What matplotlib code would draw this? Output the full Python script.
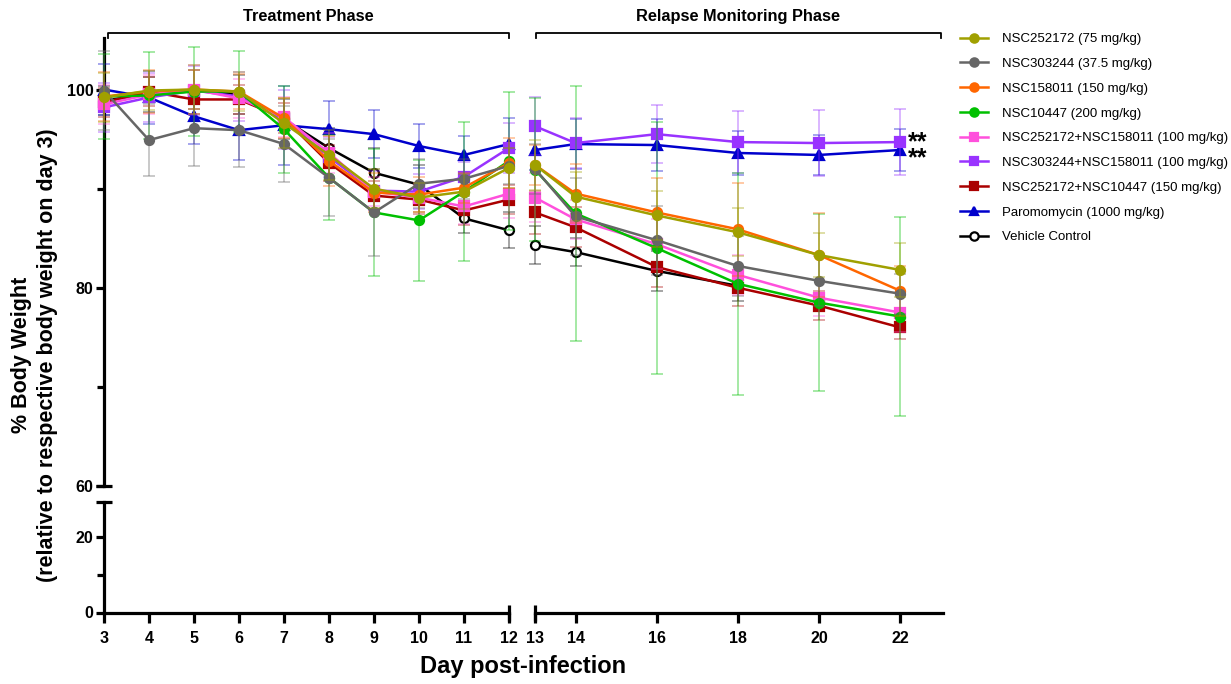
import matplotlib
matplotlib.use("Agg")
import matplotlib.pyplot as plt
import matplotlib.transforms as mtransforms
from matplotlib.lines import Line2D

plt.rcParams["font.family"] = ["Liberation Sans", "DejaVu Sans"]

# ----------------------------------------------------------------------------
# DATA  (mean % body weight and SD)
# ----------------------------------------------------------------------------
DAYS = [3, 4, 5, 6, 7, 8, 9, 10, 11, 12, 13, 14, 16, 18, 20, 22]
N_TREAT = 10          # first 10 days -> treatment phase panel

LABELS = [
    "NSC252172 (75 mg/kg)",
    "NSC303244 (37.5 mg/kg)",
    "NSC158011 (150 mg/kg)",
    "NSC10447 (200 mg/kg)",
    "NSC252172+NSC158011 (100 mg/kg)",
    "NSC303244+NSC158011 (100 mg/kg)",
    "NSC252172+NSC10447 (150 mg/kg)",
    "Paromomycin (1000 mg/kg)",
    "Vehicle Control",
]
COLORS = ["#a0a000", "#666666", "#ff6600", "#00c000", "#ff50dc",
          "#9933ff", "#aa0000", "#0000cc", "#000000"]
MARKERS = ["o", "o", "o", "o", "s", "s", "s", "^", "o"]

nsc252172 = [99.2, 99.9, 100.0, 99.8, 96.6, 93.4, 90.0, 89.1, 89.7, 92.1,
             92.4, 89.2, 87.3, 85.6, 83.3, 81.8]
nsc252172_sd = [2.5, 2.0, 2.5, 2.0, 2.5, 2.5, 2.0, 1.5, 1.8, 2.0,
                2.5, 2.5, 2.5, 2.4, 2.2, 2.7]

nsc303244 = [99.9, 94.9, 96.1, 95.9, 94.5, 91.1, 87.6, 90.5, 91.0, 92.3,
             92.0, 87.2, 84.8, 82.2, 80.7, 79.4]
nsc303244_sd = [4.0, 3.6, 3.8, 3.7, 3.8, 3.9, 4.4, 2.5, 2.0, 1.8,
                2.5, 3.9, 3.5, 3.0, 2.5, 2.0]

nsc158011 = [99.3, 99.8, 100.0, 99.8, 97.1, 92.8, 89.6, 89.4, 90.1, 92.6,
             92.4, 89.5, 87.6, 85.9, 83.3, 79.7]
nsc158011_sd = [2.5, 2.2, 2.0, 1.8, 2.0, 2.5, 2.0, 1.8, 1.5, 2.5,
                2.0, 3.0, 3.5, 4.7, 4.2, 2.5]

nsc10447 = [99.3, 99.4, 99.8, 99.8, 96.0, 91.1, 87.6, 86.8, 89.7, 92.8,
            91.9, 87.5, 84.0, 80.4, 78.5, 77.1]
nsc10447_sd = [4.3, 4.4, 4.5, 4.1, 4.4, 4.3, 6.4, 6.1, 7.0, 7.0,
               7.2, 12.9, 12.7, 11.2, 8.9, 10.0]

combo_252_158 = [98.5, 99.5, 100.0, 99.1, 97.2, 93.6, 89.7, 89.1, 88.2, 89.5,
                 89.1, 86.9, 84.4, 81.3, 79.0, 77.5]
combo_252_158_sd = [2.0, 2.0, 2.5, 2.0, 2.0, 2.0, 1.5, 1.5, 1.8, 2.5,
                    2.5, 2.0, 2.5, 2.0, 1.8, 2.0]

combo_303_158 = [98.2, 99.2, 99.9, 99.3, 97.0, 93.2, 89.8, 89.7, 91.2, 94.1,
                 96.3, 94.6, 95.5, 94.7, 94.6, 94.7]
combo_303_158_sd = [2.5, 2.5, 2.5, 2.5, 3.0, 2.0, 2.0, 1.8, 1.5, 2.5,
                    2.9, 2.5, 2.9, 3.1, 3.3, 3.3]

combo_252_104 = [98.7, 99.8, 99.0, 99.0, 97.1, 92.6, 89.3, 88.9, 87.8, 88.9,
                 87.6, 86.1, 82.1, 80.0, 78.2, 76.0]
combo_252_104_sd = [1.5, 1.5, 1.5, 1.5, 1.5, 1.8, 1.5, 1.5, 1.5, 1.5,
                    2.2, 2.0, 2.0, 1.8, 1.5, 1.2]

paromomycin = [100.0, 99.2, 97.3, 95.9, 96.4, 96.0, 95.5, 94.3, 93.4, 94.5,
               93.9, 94.5, 94.4, 93.6, 93.4, 93.9]
paromomycin_sd = [2.6, 2.7, 2.8, 3.0, 4.0, 2.8, 2.4, 2.2, 1.9, 2.6,
                  2.0, 2.5, 2.6, 2.2, 2.0, 2.1]

vehicle = [98.9, 99.5, 100.0, 99.5, 97.0, 94.1, 91.6, 90.4, 87.0, 85.8,
           84.3, 83.6, 81.7, 80.2]          # no data after day 18
vehicle_sd = [1.5, 1.8, 2.0, 2.0, 2.0, 2.0, 2.5, 2.0, 1.5, 1.8,
              1.9, 1.4, 2.0, 1.5]

MEANS = [nsc252172, nsc303244, nsc158011, nsc10447, combo_252_158,
         combo_303_158, combo_252_104, paromomycin, vehicle]
SDS = [nsc252172_sd, nsc303244_sd, nsc158011_sd, nsc10447_sd, combo_252_158_sd,
       combo_303_158_sd, combo_252_104_sd, paromomycin_sd, vehicle_sd]

# ----------------------------------------------------------------------------
# FIGURE + BROKEN AXES (2 x-segments, 2 y-segments)
# ----------------------------------------------------------------------------
W, H = 1231, 684
fig = plt.figure(figsize=(W / 100, H / 100), dpi=100)

def px_box(x0, x1, ytop, ybot):
    return [x0 / W, 1 - ybot / H, (x1 - x0) / W, (ybot - ytop) / H]

ax_tl = fig.add_axes(px_box(104, 509, 38, 486))
ax_tr = fig.add_axes(px_box(535, 942.7, 38, 486))
ax_bl = fig.add_axes(px_box(104, 509, 501.7, 612.5))
ax_br = fig.add_axes(px_box(535, 942.7, 501.7, 612.5))

LW_AX = 2.3
for ax in (ax_tl, ax_tr, ax_bl, ax_br):
    ax.set_facecolor("none")
    for s in ax.spines.values():
        s.set_linewidth(LW_AX)
        s.set_visible(False)
    ax.tick_params(which="both", direction="out", width=LW_AX, labelsize=11.5)
    ax.tick_params(axis="y", which="major", length=6, pad=1.5)
    ax.tick_params(axis="x", which="major", length=7.5, pad=5.5)
    ax.tick_params(which="minor", length=5)

# treatment / relapse x ranges
for ax in (ax_tl, ax_bl):
    ax.set_xlim(3, 12)
for ax in (ax_tr, ax_br):
    ax.set_xlim(13, 23.05)

# upper y segment
for ax in (ax_tl, ax_tr):
    ax.set_ylim(60, 105.2)
ax_tl.spines["left"].set_visible(True)
ax_tl.set_yticks([60, 80, 100])
ax_tl.set_yticks([70, 90], minor=True)
ax_tl.set_xticks([])
ax_tr.set_xticks([])
ax_tr.set_yticks([])

# lower y segment
for ax in (ax_bl, ax_br):
    ax.set_ylim(0, 29.4)
    ax.spines["bottom"].set_visible(True)
ax_bl.spines["left"].set_visible(True)
ax_bl.set_yticks([0, 20])
ax_bl.set_yticks([10], minor=True)
ax_bl.set_xticks(DAYS[:N_TREAT])
ax_br.set_xticks([13, 14, 16, 18, 20, 22])
ax_br.set_yticks([])

for ax in (ax_tl, ax_tr, ax_bl, ax_br):
    for lab in ax.get_xticklabels() + ax.get_yticklabels():
        lab.set_fontweight("bold")

# break caps
cap = dict(color="k", clip_on=False, mew=LW_AX, ms=11, zorder=30)
ax_tl.plot([0], [0], marker="_", transform=ax_tl.transAxes, **cap)
ax_bl.plot([0], [1], marker="_", transform=ax_bl.transAxes, **cap)
ax_bl.plot([1], [0], marker="|", transform=ax_bl.transAxes, **cap)
ax_br.plot([0], [0], marker="|", transform=ax_br.transAxes, **cap)

# ----------------------------------------------------------------------------
# SERIES
# ----------------------------------------------------------------------------
n = len(MEANS)
handles = []
for i, (m, sd) in enumerate(zip(MEANS, SDS)):
    color, marker = COLORS[i], MARKERS[i]
    face = "white" if LABELS[i] == "Vehicle Control" else color
    z = 5 + 2 * (n - i)
    days = DAYS[:len(m)]
    for ax, sl in ((ax_tl, slice(0, N_TREAT)), (ax_tr, slice(N_TREAT, None))):
        x, y, e = days[sl], m[sl], sd[sl]
        if not x:
            continue
        ax.errorbar(x, y, yerr=e, fmt="none", ecolor=color, elinewidth=1.1,
                    capsize=4, capthick=1.1, alpha=0.45, zorder=z, clip_on=False)
        ax.plot(x, y, color=color, marker=marker, lw=1.8, ms=6.5, mfc=face,
                mec=color, mew=1.6, zorder=z + 1, clip_on=False)
    handles.append(Line2D([], [], color=color, marker=marker, lw=1.8, ms=6,
                          mfc=face, mec=color, mew=1.6))

# significance marks (purple and blue series at day 22)
ax_tr.text(22.2, 93.85, "**\n**", fontsize=18, fontweight="bold", ha="left",
           va="center", linespacing=0.55)

# ----------------------------------------------------------------------------
# PHASE BRACKETS, LABELS, LEGEND
# ----------------------------------------------------------------------------
def bracket(ax, x0, x1, text):
    tr = mtransforms.blended_transform_factory(ax.transData, ax.transAxes)
    ax.plot([x0, x0, x1, x1], [1.0, 1.011, 1.011, 1.0], transform=tr,
            color="k", lw=1.3, clip_on=False)
    ax.text((x0 + x1) / 2, 1.047, text, transform=tr, ha="center",
            va="center", fontsize=11.8, fontweight="bold")

bracket(ax_tl, 3.09, 12.0, "Treatment Phase")
bracket(ax_tr, 13.02, 23.0, "Relapse Monitoring Phase")

fig.text(523.5 / W, 1 - 667 / H, "Day post-infection", ha="center",
         va="center", fontsize=17, fontweight="bold")
fig.text(34.5 / W, 1 - 355 / H,
         "% Body Weight\n(relative to respective body weight on day 3)",
         ha="center", va="center", rotation=90, fontsize=15.5,
         fontweight="bold", multialignment="center", linespacing=1.3)

fig.legend(handles, LABELS, loc="upper left",
           bbox_to_anchor=(960 / W, 1 - 33 / H), frameon=False,
           fontsize=9.5, handlelength=2.1, handletextpad=1.05,
           labelspacing=0.95, borderpad=0, borderaxespad=0)

fig.savefig("out.png", dpi=100)
